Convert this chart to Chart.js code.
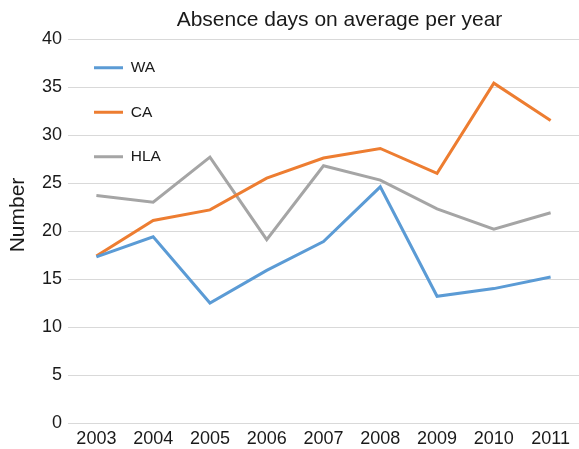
<!DOCTYPE html>
<html>
<head>
<meta charset="utf-8">
<script src="https://cdn.jsdelivr.net/npm/chart.js@4/dist/chart.umd.min.js"></script>
<style>
  html, body { margin: 0; padding: 0; background: #ffffff; }
  #wrap { width: 579px; height: 449px; }
</style>
</head>
<body>
<div id="wrap"><canvas id="c" width="579" height="449"></canvas></div>
<script>
const years = ['2003', '2004', '2005', '2006', '2007', '2008', '2009', '2010', '2011'];
const waValues  = [17.3, 19.4, 12.5, 15.9, 18.9, 24.6, 13.2, 14.0, 15.2];
const caValues  = [17.4, 21.1, 22.2, 25.5, 27.6, 28.6, 26.0, 35.4, 31.5];
const hlaValues = [23.7, 23.0, 27.7, 19.1, 26.8, 25.3, 22.3, 20.2, 21.9];
const seriesNames = ['WA', 'CA', 'HLA'];
const chartTitle = 'Absence days on average per year';
const yAxisTitle = 'Number';

const FONT = '"Liberation Sans", Arial, Helvetica, sans-serif';
const TEXT = '#1a1a1a';

const textPlugin = {
  id: 'textPlugin',
  afterDraw(chart) {
    const ctx = chart.ctx;
    const a = chart.chartArea;
    ctx.save();
    ctx.fillStyle = TEXT;
    ctx.textAlign = 'center';
    ctx.textBaseline = 'middle';
    ctx.font = '21px ' + FONT;
    ctx.fillText(chartTitle, a.left + (a.right - a.left) / 2 + 16, 20);
    ctx.translate(18, (a.top + a.bottom) / 2 - 16);
    ctx.rotate(-Math.PI / 2);
    ctx.fillText(yAxisTitle, 0, 0);
    ctx.restore();
  }
};

const legendShift = {
  id: 'legendShift',
  afterLayout(chart) {
    if (chart.legend) { chart.legend.top += 31; chart.legend.left -= 3; }
  }
};

const mk = (label, data, color) => ({
  label, data,
  borderColor: color,
  backgroundColor: color,
  borderWidth: 3,
  pointRadius: 0,
  pointHoverRadius: 0,
  tension: 0,
  fill: false,
  pointStyle: 'line'
});

new Chart(document.getElementById('c'), {
  type: 'line',
  data: {
    labels: years,
    datasets: [
      mk(seriesNames[0], waValues, '#5b9bd5'),
      mk(seriesNames[1], caValues, '#ed7d31'),
      mk(seriesNames[2], hlaValues, '#a5a5a5')
    ]
  },
  options: {
    responsive: false,
    animation: false,
    devicePixelRatio: 1,
    layout: { padding: { top: 39, right: 0, bottom: 0, left: 0 } },
    plugins: {
      title: { display: false },
      tooltip: { enabled: false },
      legend: {
        position: 'chartArea',
        align: 'start',
        labels: {
          usePointStyle: true,
          pointStyle: 'line',
          pointStyleWidth: 29,
          padding: 29,
          color: TEXT,
          font: { family: FONT, size: 15.5 }
        }
      }
    },
    scales: {
      x: {
        offset: true,
        grid: { display: false, drawTicks: false },
        border: { display: false },
        ticks: { color: TEXT, font: { family: FONT, size: 18 }, padding: 5, maxRotation: 0, autoSkip: false },
        afterFit(scale) { scale.height = 26; }
      },
      y: {
        min: 0, max: 40,
        ticks: { stepSize: 5, color: TEXT, font: { family: FONT, size: 18 }, padding: 6 },
        grid: { color: '#d9d9d9', lineWidth: 1, drawTicks: false },
        border: { display: false },
        afterFit(scale) { scale.width = 68; }
      }
    }
  },
  plugins: [textPlugin, legendShift]
});
</script>
</body>
</html>
